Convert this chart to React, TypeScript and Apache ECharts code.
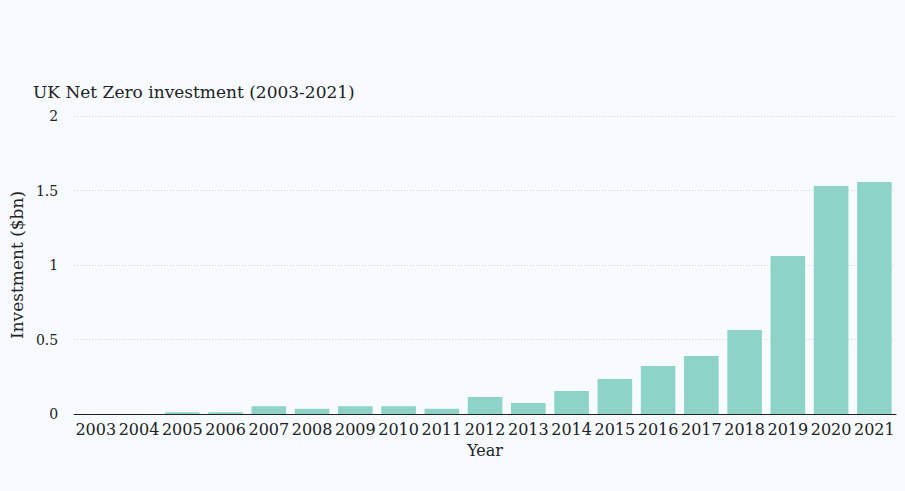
import React, { useEffect, useRef } from "react";
import * as echarts from "echarts";

const years = ["2003","2004","2005","2006","2007","2008","2009","2010","2011","2012","2013","2014","2015","2016","2017","2018","2019","2020","2021"];
const investment = [0, 0, 0.012, 0.012, 0.052, 0.035, 0.052, 0.052, 0.035, 0.114, 0.074, 0.154, 0.235, 0.322, 0.389, 0.564, 1.06, 1.53, 1.557];
const yTicks = { min: 0, max: 2, interval: 0.5 };

const FONT = "DejaVu Serif";

export default function App() {
  const ref = useRef<HTMLDivElement>(null);
  useEffect(() => {
    const chart = echarts.init(ref.current!, null, { renderer: "svg" });
    chart.setOption({
      animation: false,
      backgroundColor: "#f7fbff",
      textStyle: { fontFamily: FONT },
      title: {
        text: "UK Net Zero investment (2003-2021)",
        left: 28,
        top: 78,
        textStyle: { fontFamily: FONT, fontSize: 17, fontWeight: "normal", color: "#222" },
      },
      grid: { left: 66, right: 9, top: 116, bottom: 77, containLabel: false },
      xAxis: {
        type: "category",
        data: years,
        name: "Year",
        nameLocation: "middle",
        nameGap: 28,
        nameTextStyle: { fontFamily: FONT, fontSize: 16, color: "#222" },
        axisLine: { show: true, lineStyle: { color: "#222", width: 1 } },
        axisTick: { show: false },
        axisLabel: { interval: 0, hideOverlap: false, margin: 7, fontFamily: FONT, fontSize: 16, color: "#222" },
      },
      yAxis: {
        type: "value",
        min: yTicks.min,
        max: yTicks.max,
        interval: yTicks.interval,
        name: "Investment ($bn)",
        nameLocation: "middle",
        nameGap: 41,
        nameTextStyle: { fontFamily: FONT, fontSize: 17, color: "#222" },
        axisLine: { show: false },
        axisTick: { show: false },
        axisLabel: { margin: 16, fontFamily: FONT, fontSize: 14, color: "#222" },
        splitLine: { show: true, lineStyle: { color: "#cfcfcf", type: [1, 2], width: 1 } },
      },
      series: [
        {
          type: "bar",
          data: investment,
          barCategoryGap: "20%",
          itemStyle: { color: "#8dd3c7" },
        },
      ],
    });
    return () => chart.dispose();
  }, []);
  return <div ref={ref} style={{ position: "absolute", left: 0, top: 0, width: 905, height: 491 }} />;
}
